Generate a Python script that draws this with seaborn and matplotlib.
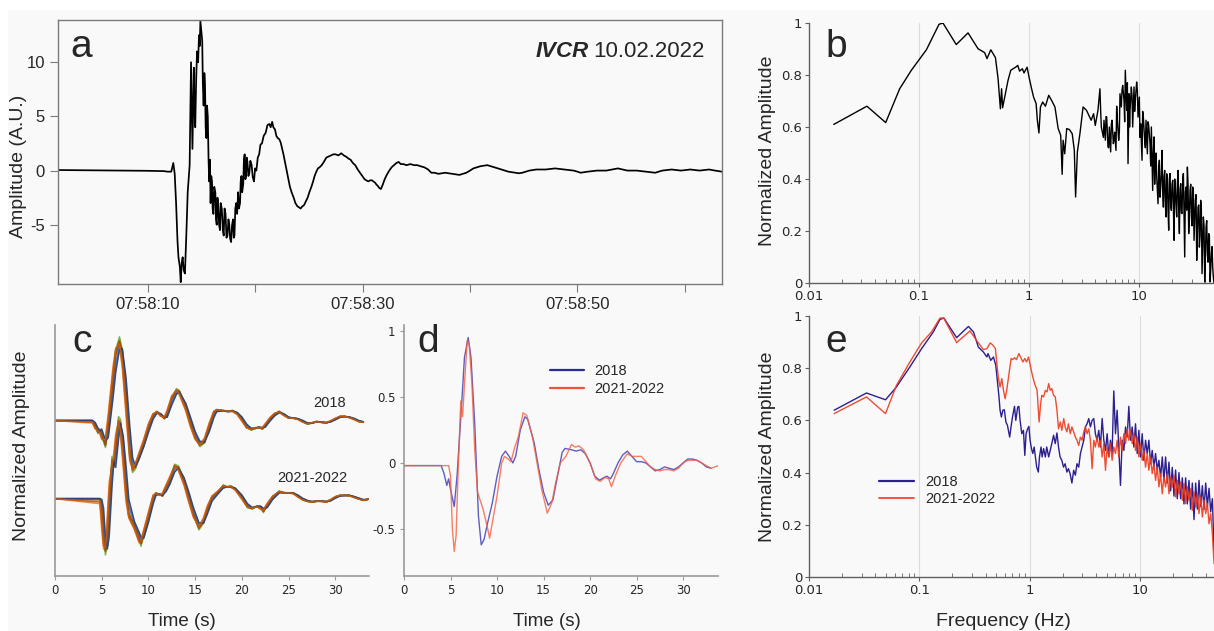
import numpy as np
import matplotlib
matplotlib.use('Agg')
import matplotlib.pyplot as plt
import matplotlib.ticker as mticker
from matplotlib.lines import Line2D
from matplotlib.patches import Rectangle
import seaborn as sns

# ---------------- data ----------------
# (a) raw record: seconds after 07:58:00 and amplitude (A.U.)
a_time = [1.66, 4.0, 6.0, 8.0, 10.0, 11.5, 11.87, 12.2, 12.39, 12.52, 12.65, 12.78, 12.87, 13.00, 13.08, 13.17,
          13.26, 13.36, 13.47, 13.60, 13.73, 13.91, 14.04, 14.10, 14.17, 14.30, 14.36, 14.43, 14.52, 14.60,
          14.70, 14.78, 14.85, 14.91, 15.00, 15.08, 15.14, 15.21, 15.28, 15.34, 15.40, 15.47, 15.53, 15.60,
          15.67, 15.73, 15.80, 15.86, 15.92, 15.99, 16.05, 16.12, 16.20, 16.30, 16.36, 16.43, 16.50, 16.56,
          16.65, 16.73, 16.80, 16.90, 17.00, 17.08, 17.16, 17.25, 17.34, 17.43, 17.52, 17.60, 17.68, 17.77,
          17.86, 17.95, 18.02, 18.08, 18.16, 18.25, 18.33, 18.42, 18.50, 18.60, 18.66, 18.73, 18.80, 18.90,
          18.96, 19.03, 19.10, 19.16, 19.22, 19.29, 19.38, 19.47, 19.56, 19.68, 19.78, 19.90, 20.00, 20.12,
          20.25, 20.38, 20.50, 20.64, 20.80, 20.99, 21.15, 21.33, 21.45, 21.59, 21.70, 21.85, 21.98, 22.11,
          22.25, 22.38, 22.50, 22.64, 22.80, 22.94, 23.10, 23.24, 23.40, 23.59, 23.75, 23.94, 24.10, 24.24,
          24.40, 24.55, 24.70, 24.89, 25.05, 25.24, 25.40, 25.54, 25.70, 25.85, 26.00, 26.20, 26.40, 26.63,
          26.85, 27.06, 27.28, 27.50, 27.75, 28.02, 28.25, 28.45, 28.70, 28.89, 29.10, 29.32, 29.55, 29.76,
          29.98, 30.19, 30.35, 30.54, 30.70, 30.89, 31.00, 31.15, 31.30, 31.41, 31.55, 31.71, 31.88, 32.06,
          32.25, 32.49, 32.70, 32.93, 33.15, 33.36, 33.55, 33.79, 34.10, 34.45, 34.80, 35.10, 35.40, 35.75,
          36.10, 36.40, 36.70, 37.05, 37.40, 37.70, 38.00, 38.35, 38.70, 39.01, 39.35, 39.66, 40.00, 40.31,
          40.65, 40.96, 41.30, 41.61, 41.95, 42.26, 42.60, 42.91, 43.25, 43.57, 43.90, 44.22, 44.55, 44.87,
          45.20, 45.52, 45.85, 46.17, 46.60, 47.04, 47.50, 47.91, 48.35, 48.78, 49.20, 49.64, 50.00, 50.29,
          50.60, 50.95, 51.40, 51.82, 52.25, 52.68, 53.20, 53.77, 54.20, 54.64, 55.10, 55.51, 55.90, 56.37,
          56.80, 57.24, 57.55, 57.89, 58.30, 58.76, 59.20, 59.63, 60.10, 60.50, 60.90, 61.37, 61.80, 62.24,
          62.80, 63.45]
a_amp = [0.05, 0.03, 0.02, 0.0, -0.02, -0.05, -0.1, -0.1, 0.7, -0.3, -3.0, -6.5, -8.0, -8.9, -10.3, -8.5,
         -8.0, -9.2, -9.5, -6.0, -2.0, 0.5, 10.0, 6.0, 2.0, 9.5, 5.5, 4.0, 8.5, 11.0,
         10.0, 12.5, 11.5, 13.8, 12.8, 12.0, 8.0, 6.0, 9.0, 8.0, 4.0, 3.0, 6.0, 5.0,
         1.0, -1.0, 1.0, -3.0, -0.5, -1.0, -3.5, -4.0, -1.5, -2.0, -4.5, -5.0, -2.5, -3.0,
         -5.0, -5.5, -3.0, -3.5, -5.5, -6.0, -3.5, -4.0, -6.2, -6.0, -4.5, -5.0, -6.3, -6.6,
         -5.0, -4.5, -6.2, -6.0, -3.5, -3.0, -4.0, -2.0, -3.5, -3.0, -1.0, -0.5, -2.0, -1.2,
         1.0, 1.5, -0.8, -0.5, 1.2, 0.8, -0.5, -0.2, 0.9, 0.5, -0.6, -1.0, 0.2, 0.0,
         1.2, 1.5, 2.4, 2.5, 3.2, 3.5, 4.2, 4.3, 4.0, 4.5, 4.0, 3.8, 3.2, 3.0,
         2.9, 2.6, 2.1, 1.5, 0.7, 0.0, -0.8, -1.5, -2.0, -2.5, -3.0, -3.3, -3.4, -3.5,
         -3.3, -3.2, -2.9, -2.5, -2.0, -1.5, -1.0, -0.5, -0.1, 0.2, 0.3, 0.5, 0.8, 1.2,
         1.3, 1.4, 1.5, 1.5, 1.4, 1.6, 1.4, 1.3, 1.1, 1.0, 0.7, 0.5, 0.1, -0.2,
         -0.5, -0.8, -0.9, -1.0, -0.9, -0.9, -1.0, -1.1, -1.3, -1.4, -1.6, -1.7, -1.3, -0.8,
         -0.4, 0.0, 0.3, 0.5, 0.7, 0.8, 0.6, 0.6, 0.5, 0.6, 0.5, 0.5, 0.4, 0.3,
         0.1, -0.2, -0.2, -0.3, -0.25, -0.2, -0.25, -0.3, -0.35, -0.4, -0.3, -0.2, 0.0, 0.2,
         0.3, 0.4, 0.45, 0.5, 0.4, 0.3, 0.2, 0.1, 0.0, -0.1, -0.15, -0.2, -0.25, -0.2,
         -0.1, 0.0, 0.05, 0.1, 0.1, 0.1, 0.15, 0.2, 0.15, 0.1, 0.05, 0.0, -0.1, -0.2,
         -0.15, -0.1, -0.05, 0.0, 0.0, 0.0, 0.1, 0.2, 0.1, 0.0, 0.0, 0.0, -0.05, -0.1,
         -0.15, -0.2, -0.1, 0.0, 0.05, 0.1, 0.05, 0.0, 0.05, 0.1, 0.05, 0.0, 0.05, 0.1,
         0.0, -0.1]

# (b) normalized spectrum of the record
b_freq = [0.0168, 0.0336, 0.0498, 0.0667, 0.0851, 0.1167, 0.152, 0.165, 0.218, 0.279, 0.344, 0.395, 0.415,
          0.449, 0.495, 0.523, 0.549, 0.563, 0.575, 0.601, 0.644, 0.682, 0.715, 0.756, 0.79, 0.82, 0.87,
          0.90, 0.96, 1.0, 1.05, 1.10, 1.16, 1.19, 1.23, 1.27, 1.33, 1.41, 1.51, 1.60, 1.72, 1.84, 1.94,
          2.0, 2.04, 2.11, 2.2, 2.33, 2.47, 2.58, 2.65, 2.75, 2.9, 3.1, 3.33, 3.5, 3.67, 3.86, 4.0, 4.23,
          4.41, 4.54, 4.67, 4.80, 4.94, 5.08, 5.22, 5.37, 5.52, 5.68, 5.84, 6.00, 6.17, 6.35, 6.53, 6.71,
          6.90, 7.10, 7.30, 7.50, 7.72, 7.94, 8.11, 8.28, 8.51, 8.75, 9.00, 9.25, 9.51, 9.79, 10.06, 10.35,
          10.64, 10.94, 11.25, 11.57, 11.90, 12.23, 12.58, 12.94, 13.30, 13.68, 14.07, 14.47, 14.88, 15.30,
          15.73, 16.18, 16.64, 17.11, 17.59, 18.09, 18.60, 19.13, 19.67, 20.23, 20.80, 21.39, 21.99, 22.62,
          23.26, 23.91, 24.59, 25.29, 26.00, 26.74, 27.50, 28.27, 29.07, 29.90, 30.74, 31.61, 32.51, 33.43,
          34.37, 35.34, 36.34, 37.37, 38.43, 39.52, 40.64, 41.79, 42.97, 44.19, 45.44, 46.73, 48.05]
b_amp = [0.61, 0.68, 0.617, 0.747, 0.818, 0.897, 0.995, 1.0, 0.917, 0.962, 0.901, 0.886, 0.863,
         0.897, 0.867, 0.786, 0.67, 0.747, 0.674, 0.715, 0.779, 0.818, 0.824, 0.83, 0.837, 0.815, 0.824,
         0.808, 0.83, 0.792, 0.751, 0.715, 0.69, 0.626, 0.577, 0.677, 0.696, 0.68, 0.722, 0.703, 0.677, 0.594, 0.568,
         0.418, 0.549, 0.497, 0.594, 0.59, 0.574, 0.51, 0.331, 0.504, 0.574, 0.677, 0.664, 0.645, 0.626, 0.651, 0.606, 0.664,
         0.747, 0.6, 0.574, 0.626, 0.549, 0.638, 0.523, 0.6, 0.504, 0.626, 0.536, 0.58, 0.51, 0.626, 0.549, 0.728,
         0.677, 0.76, 0.703, 0.818, 0.664, 0.459, 0.728, 0.664, 0.754, 0.6, 0.754, 0.703, 0.773, 0.638, 0.715, 0.613,
         0.472, 0.638, 0.549, 0.626, 0.497, 0.606, 0.536, 0.6, 0.356, 0.562, 0.472, 0.408, 0.305, 0.472,
         0.369, 0.51, 0.292, 0.433, 0.254, 0.395, 0.203, 0.421, 0.279, 0.395, 0.164, 0.369, 0.254, 0.433,
         0.19, 0.382, 0.267, 0.421, 0.1, 0.369, 0.446, 0.19, 0.356, 0.254, 0.369, 0.164, 0.318, 0.087,
         0.292, 0.138, 0.318, 0.036, 0.254, 0.004, 0.215, 0.113, 0.19, 0.004, 0.113, 0.06, 0.0]
# additional readings in the dense high-frequency band of (b)
b_freq_hf = [4.48, 4.74, 5.01, 5.30, 5.60, 5.92, 6.26, 6.62, 7.00, 7.40, 7.83, 8.20, 8.63, 9.12, 9.65, 10.20,
             10.79, 11.41, 12.06, 12.76, 13.12, 13.49, 13.87, 14.27, 14.67, 15.09, 15.51, 15.95, 16.41, 16.87,
             17.35, 17.84, 18.34, 18.86, 19.40, 19.95, 20.51, 21.09, 21.69, 22.30, 22.94, 23.58, 24.25, 24.94,
             25.64, 26.37, 27.12, 27.88, 28.67, 29.48, 30.32, 31.17, 32.06, 32.97, 33.90, 34.85, 35.84, 36.85,
             37.90, 38.97, 40.08, 41.21, 42.38, 43.58, 44.81, 46.08, 47.39]
b_amp_hf = [0.66, 0.56, 0.64, 0.52, 0.61, 0.55, 0.68, 0.58, 0.74, 0.62, 0.77, 0.6, 0.72, 0.66, 0.74, 0.56,
            0.66, 0.52, 0.62, 0.45, 0.48, 0.5, 0.38, 0.5, 0.36, 0.44, 0.33, 0.42, 0.35, 0.41,
            0.3, 0.42, 0.28, 0.4, 0.3, 0.38, 0.3, 0.4, 0.3, 0.38, 0.28, 0.36, 0.27, 0.4,
            0.25, 0.35, 0.28, 0.38, 0.26, 0.38, 0.22, 0.35, 0.24, 0.34, 0.2, 0.3, 0.18, 0.28,
            0.14, 0.22, 0.1, 0.24, 0.08, 0.18, 0.05, 0.14, 0.02]

# (c, d) averaged normalized waveforms
d_t_2018 = [0, 4.0, 4.3, 4.6, 4.8, 5.0, 5.4, 5.7, 6.2, 6.5, 6.9, 7.2, 7.6, 8.0, 8.3, 8.6, 9.0, 9.5, 10.0, 10.5,
            10.9, 11.3, 11.7, 12.0, 12.5, 13.0, 13.3, 14.0, 14.5, 15.0, 15.5, 16.0, 16.5, 17.0, 17.3, 18.0,
            18.5, 19.0, 19.5, 20.0, 20.5, 21.0, 21.5, 21.8, 22.2, 22.5, 23.0, 23.5, 24.0, 24.5, 25.0, 25.5,
            26.0, 26.5, 27.0, 27.5, 28.0, 28.5, 29.0, 29.5, 30.0, 30.5, 31.0, 31.5, 32.0, 32.5, 33.0]
d_v_2018 = [-0.02, -0.02, -0.08, -0.17, -0.12, -0.2, -0.33, -0.1, 0.45, 0.8, 0.95, 0.8, 0.3, -0.4, -0.62, -0.58,
            -0.45, -0.3, -0.1, 0.05, 0.09, 0.05, 0.0, 0.05, 0.25, 0.35, 0.33, 0.15, -0.05, -0.22, -0.32, -0.28,
            -0.1, 0.08, 0.11, 0.1, 0.09, 0.1, 0.07, 0.0, -0.1, -0.13, -0.11, -0.1, -0.12, -0.08, 0.0, 0.06,
            0.09, 0.05, 0.01, 0.01, 0.0, -0.03, -0.06, -0.05, -0.03, -0.04, -0.05, -0.03, 0.0, 0.03, 0.03,
            0.02, 0.0, -0.03, -0.04]
d_t_2122 = [0, 4.8, 5.0, 5.2, 5.4, 5.6, 5.8, 6.1, 6.3, 6.5, 6.8, 7.0, 7.3, 7.6, 7.9, 8.5, 9.0, 9.2, 9.5, 10.0,
            10.5, 10.8, 11.2, 11.5, 11.9, 12.3, 12.8, 13.2, 13.8, 14.3, 14.8, 15.4, 15.9, 16.3, 16.8, 17.4,
            18.0, 18.4, 18.8, 19.3, 20.0, 20.6, 21.1, 21.6, 22.0, 22.3, 22.7, 23.3, 24.0, 24.5, 25.0, 25.5,
            26.0, 26.5, 27.0, 27.5, 28.0, 28.5, 29.0, 29.5, 30.0, 30.5, 31.0, 31.5, 32.0, 32.5, 33.0, 33.8]
d_v_2122 = [-0.02, -0.02, -0.1, -0.5, -0.67, -0.55, -0.1, 0.47, 0.35, 0.6, 0.93, 0.9, 0.6, 0.1, -0.22, -0.35,
            -0.5, -0.57, -0.45, -0.25, 0.0, 0.05, 0.03, 0.01, 0.12, 0.2, 0.38, 0.36, 0.2, 0.0, -0.2, -0.38,
            -0.3, -0.15, 0.0, 0.05, 0.14, 0.12, 0.13, 0.1, 0.0, -0.12, -0.14, -0.11, -0.12, -0.18, -0.1, 0.0,
            0.07, 0.05, 0.05, 0.05, 0.01, -0.03, -0.05, -0.06, -0.05, -0.05, -0.06, -0.04, 0.0, 0.02, 0.02,
            0.02, 0.0, -0.02, -0.04, -0.02]

# (c) individual events: amplitude factor and time offset (s) of each trace
c_gain = [1.02, 0.97, 0.93, 1.00, 1.04, 0.98, 1.01, 0.99, 0.95, 1.00]
c_shift = [0.05, -0.08, 0.12, -0.15, 0.00, 0.10, -0.03, 0.02, 0.18, -0.10]
c_offset = {'2018': 0.0, '2021-2022': -0.94}

# (e) normalized spectra of the two periods
e_freq_2018 = [0.0169, 0.0332, 0.0494, 0.0613, 0.0822, 0.105, 0.134, 0.154, 0.167, 0.218, 0.279, 0.31, 0.343,
               0.381, 0.41, 0.42, 0.445, 0.47, 0.494, 0.51, 0.528, 0.54, 0.555, 0.572, 0.59, 0.61, 0.63, 0.66,
               0.68, 0.70, 0.73, 0.75, 0.78, 0.80, 0.82, 0.85, 0.88, 0.905, 0.93, 0.96, 0.986, 1.01, 1.04,
               1.07, 1.10, 1.13, 1.16, 1.20, 1.23, 1.27, 1.30, 1.34, 1.39, 1.43, 1.49, 1.54, 1.59, 1.65, 1.71,
               1.77, 1.83, 1.89, 1.96, 2.03, 2.10, 2.18, 2.25, 2.33, 2.42, 2.51, 2.60, 2.69, 2.79, 2.89, 2.99,
               3.10, 3.21, 3.32, 3.44, 3.56, 3.69, 3.82, 3.95, 4.09, 4.24, 4.39, 4.55, 4.71, 4.88, 5.05, 5.23,
               5.41, 5.60, 5.80, 6.01, 6.22, 6.44, 6.67, 6.91, 7.16, 7.41, 7.67, 7.94, 8.23, 8.52, 8.82, 9.13,
               9.46, 9.79, 10.14, 10.50, 10.87, 11.26, 11.66, 12.07, 12.50, 12.94, 13.40, 13.88, 14.37, 14.88,
               15.41, 15.96, 16.52, 17.11, 17.72, 18.35, 19.00, 19.67, 20.37, 21.09, 21.84, 22.62, 23.42, 24.25,
               25.11, 26.00, 26.93, 27.88, 28.87, 29.90, 30.96, 32.06, 33.20, 34.37, 35.59, 36.86, 38.17, 39.52,
               40.92, 42.37, 43.88, 45.43, 47.05]
e_amp_2018 = [0.639, 0.705, 0.679, 0.725, 0.805, 0.875, 0.939, 0.987, 0.992, 0.917, 0.96, 0.939, 0.881,
              0.862, 0.843, 0.856, 0.83, 0.843, 0.811, 0.753, 0.69, 0.639, 0.613, 0.639, 0.641, 0.594, 0.581, 0.536,
              0.577, 0.613, 0.654, 0.6, 0.651, 0.654, 0.6, 0.549, 0.562, 0.466, 0.549, 0.568, 0.577, 0.524, 0.492,
              0.473, 0.498, 0.46, 0.421, 0.402, 0.46, 0.498, 0.46, 0.492, 0.46, 0.498, 0.46, 0.485, 0.511, 0.543, 0.511,
              0.552, 0.498, 0.46, 0.447, 0.421, 0.434, 0.402, 0.415, 0.396, 0.36, 0.409, 0.39, 0.434, 0.421, 0.473, 0.498,
              0.524, 0.575, 0.587, 0.607, 0.575, 0.6, 0.607, 0.549, 0.524, 0.562, 0.498, 0.607, 0.524, 0.485, 0.549, 0.46,
              0.524, 0.473, 0.713, 0.549, 0.639, 0.498, 0.351, 0.524, 0.485, 0.575, 0.536, 0.654, 0.524, 0.575, 0.498, 0.587,
              0.473, 0.562, 0.46, 0.549, 0.447, 0.524, 0.473, 0.524, 0.434, 0.485, 0.421, 0.473, 0.409, 0.447,
              0.383, 0.46, 0.37, 0.46, 0.36, 0.44, 0.33, 0.42, 0.31, 0.41, 0.30, 0.40, 0.30, 0.38,
              0.28, 0.38, 0.28, 0.37, 0.26, 0.36, 0.22, 0.36, 0.26, 0.37, 0.27, 0.35, 0.26, 0.36,
              0.27, 0.34, 0.25, 0.30, 0.10]
e_freq_2122 = [0.0169, 0.0332, 0.0494, 0.062, 0.0822, 0.105, 0.129, 0.154, 0.167, 0.218, 0.288, 0.33, 0.381,
               0.41, 0.44, 0.465, 0.49, 0.505, 0.52, 0.54, 0.56, 0.58, 0.60, 0.62, 0.65, 0.68, 0.70, 0.73, 0.76,
               0.80, 0.84, 0.87, 0.905, 0.94, 0.98, 1.02, 1.07, 1.11, 1.17, 1.20, 1.22, 1.26, 1.29, 1.34, 1.39,
               1.44, 1.49, 1.54, 1.59, 1.65, 1.71, 1.77, 1.83, 1.90, 1.96, 2.04, 2.10, 2.18, 2.25, 2.34, 2.42,
               2.51, 2.60, 2.69, 2.79, 2.89, 2.99, 3.10, 3.21, 3.32, 3.44, 3.56, 3.69, 3.82, 3.95, 4.09, 4.24,
               4.39, 4.55, 4.71, 4.88, 5.05, 5.23, 5.41, 5.60, 5.80, 6.01, 6.22, 6.44, 6.67, 6.91, 7.16, 7.41,
               7.67, 7.94, 8.23, 8.52, 8.82, 9.13, 9.46, 9.79, 10.14, 10.50, 10.87, 11.26, 11.66, 12.07, 12.50,
               12.94, 13.40, 13.88, 14.37, 14.88, 15.41, 15.96, 16.52, 17.11, 17.72, 18.35, 19.00, 19.67, 20.37,
               21.09, 21.84, 22.62, 23.42, 24.25, 25.11, 26.00, 26.93, 27.88, 28.87, 29.90, 30.96, 32.06, 33.20,
               34.37, 35.59, 36.86, 38.17, 39.52, 40.92, 42.37, 43.88, 45.43, 47.05]
e_amp_2122 = [0.626, 0.69, 0.626, 0.734, 0.824, 0.897, 0.939, 0.992, 0.992, 0.898, 0.943, 0.907, 0.871,
              0.875, 0.897, 0.888, 0.875, 0.817, 0.766, 0.728, 0.76, 0.715, 0.683, 0.715, 0.779, 0.837, 0.833, 0.84, 0.833,
              0.856, 0.837, 0.824, 0.837, 0.824, 0.843, 0.805, 0.766, 0.741, 0.715, 0.639, 0.594, 0.664, 0.696, 0.69, 0.715,
              0.709, 0.741, 0.715, 0.722, 0.696, 0.69, 0.639, 0.568, 0.594, 0.562, 0.607, 0.575, 0.556, 0.587, 0.549, 0.575,
              0.556, 0.536, 0.524, 0.504, 0.536, 0.524, 0.556, 0.575, 0.549, 0.568, 0.524, 0.415, 0.524, 0.498, 0.536, 0.498,
              0.524, 0.46, 0.511, 0.409, 0.498, 0.46, 0.511, 0.447, 0.498, 0.473, 0.524, 0.46, 0.536, 0.485, 0.549, 0.511,
              0.568, 0.524, 0.562, 0.511, 0.549, 0.485, 0.536, 0.46, 0.511, 0.447, 0.485, 0.421, 0.473, 0.409, 0.46,
              0.396, 0.434, 0.37, 0.421, 0.345, 0.396, 0.319, 0.383, 0.345, 0.396, 0.319, 0.383, 0.345, 0.39,
              0.307, 0.37, 0.319, 0.364, 0.294, 0.358, 0.281, 0.345, 0.294, 0.338, 0.255, 0.326, 0.268, 0.319,
              0.243, 0.307, 0.23, 0.294, 0.243, 0.281, 0.204, 0.243, 0.166, 0.051]

# ---------------- style ----------------
sns.set_style('white')
plt.rcParams['font.family'] = ['Liberation Sans', 'DejaVu Sans']
plt.rcParams['axes.unicode_minus'] = False

W, H = 1214, 631
BG = '#f9f9f9'
fig = plt.figure(figsize=(W / 100, H / 100), dpi=100)
fig.patch.set_facecolor('white')
fig.patches.append(Rectangle((8 / W, 0), 1 - 8 / W, 1 - 10 / H, transform=fig.transFigure,
                             facecolor=BG, edgecolor='none', zorder=-10))


def rect(l, t, r, b):
    return [l / W, 1 - b / H, (r - l) / W, (b - t) / H]


def fx(x):
    return x / W


def fy(y):
    return 1 - y / H


def line(ax, x, y, **kw):
    sns.lineplot(x=np.asarray(x, float), y=np.asarray(y, float), ax=ax, sort=False,
                 estimator=None, errorbar=None, **kw)


# ---------------- (a) ----------------
ax_a = fig.add_axes(rect(58, 20, 722, 284))
ax_a.set_facecolor(BG)
line(ax_a, a_time, a_amp, color='black', linewidth=1.25)
ax_a.set_xlim(1.66, 63.45)
ax_a.set_ylim(-10.47, 13.9)
for s in ax_a.spines.values():
    s.set_color('#7a7a7a')
    s.set_linewidth(1.0)
ax_a.set_xticks([10, 20, 30, 40, 50, 60])
ax_a.xaxis.set_major_formatter(mticker.FuncFormatter(
    lambda v, p: f'07:58:{int(round(v)):02d}' if int(round(v)) in (10, 30, 50) else ''))
ax_a.set_yticks([-5, 0, 5, 10])
ax_a.yaxis.set_major_formatter(mticker.FuncFormatter(lambda v, p: f'{v:g}'))
ax_a.tick_params(axis='both', direction='out', length=6, width=0.8, color='#7a7a7a',
                 labelsize=12, bottom=True, left=True, top=False, right=False)
ax_a.set_xlabel('')
ax_a.set_ylabel('')
fig.text(fx(19), fy(166), 'Amplitude (A.U.)', rotation=90, ha='center', va='center', fontsize=14)
t_date = fig.text(fx(705), fy(57), '10.02.2022', ha='right', va='baseline', fontsize=16)
fig.canvas.draw()
bb = t_date.get_window_extent()
fig.text((bb.x0 - 5) / W, fy(57), 'IVCR', ha='right', va='baseline', fontsize=16,
         fontweight='bold', style='italic')

# ---------------- (b) and (e) spectra ----------------


def style_spec(ax):
    ax.set_facecolor(BG)
    ax.set_xscale('log')
    ax.set_xlim(0.01, 48)
    ax.set_ylim(0, 1)
    for k in ('top', 'right'):
        ax.spines[k].set_visible(False)
    for k in ('left', 'bottom'):
        ax.spines[k].set_color('#606060')
        ax.spines[k].set_linewidth(1.0)
    ax.set_xticks([0.01, 0.1, 1, 10])
    ax.xaxis.set_major_formatter(mticker.FuncFormatter(lambda v, p: f'{v:g}'))
    ax.xaxis.set_minor_locator(mticker.LogLocator(base=10, subs=np.arange(2, 10), numticks=20))
    ax.xaxis.set_minor_formatter(mticker.NullFormatter())
    ax.set_yticks([0, 0.2, 0.4, 0.6, 0.8, 1.0])
    ax.yaxis.set_major_formatter(mticker.FuncFormatter(lambda v, p: f'{v:g}'))
    ax.tick_params(axis='both', which='major', direction='out', length=3, width=0.8, color='#606060',
                   labelsize=9.5, bottom=True, left=True, pad=2)
    ax.tick_params(axis='x', which='minor', direction='in', length=3, width=0.6, color='#606060', bottom=True)
    for lab in ax.get_xticklabels() + ax.get_yticklabels():
        lab.set_family('DejaVu Sans')
    ax.grid(False)
    for xv in (0.1, 1, 10):
        ax.axvline(xv, color='#dcdcdc', linewidth=0.8, zorder=0)
    ax.set_xlabel('')
    ax.set_ylabel('')


ax_b = fig.add_axes(rect(809, 23, 1214, 283))
bf = np.concatenate([b_freq, b_freq_hf])
ba = np.concatenate([b_amp, b_amp_hf])
order = np.argsort(bf)
line(ax_b, bf[order], ba[order], color='black', linewidth=1.0)
style_spec(ax_b)
fig.text(fx(768), fy(151), 'Normalized Amplitude', rotation=90, ha='center', va='center', fontsize=14)

ax_e = fig.add_axes(rect(809, 316, 1214, 577))
col18 = '#2c1f90'
col22 = '#ee3a1c'
line(ax_e, e_freq_2018, e_amp_2018, color=col18, linewidth=1.0)
line(ax_e, e_freq_2122, e_amp_2122, color=col22, linewidth=1.0, alpha=0.9)
style_spec(ax_e)
ax_e.set_xlim(0.01, 47)
fig.text(fx(768), fy(447), 'Normalized Amplitude', rotation=90, ha='center', va='center', fontsize=14)
fig.text(fx(1003), fy(622), 'Frequency (Hz)', ha='center', va='center', fontsize=14)
ax_e.legend(handles=[Line2D([], [], color=col18, lw=1.6), Line2D([], [], color=col22, lw=1.2)],
            labels=['2018', '2021-2022'], loc='upper left', bbox_to_anchor=(fx(879), fy(475)),
            bbox_transform=fig.transFigure, frameon=False, fontsize=10.5, handlelength=2.4,
            handletextpad=0.75, labelspacing=0.2, borderpad=0, borderaxespad=0)

# ---------------- (c) ----------------
ax_c = fig.add_axes(rect(55, 325, 369, 576))
ax_c.set_facecolor(BG)
c_colors = ['#FFC000', '#A5A5A5', '#5B9BD5', '#ED7D31', '#70AD47', '#4472C4', '#997300',
            '#9E480E', '#264478', '#C55A11']
for grp, (tt, vv) in {'2018': (d_t_2018, d_v_2018), '2021-2022': (d_t_2122, d_v_2122)}.items():
    tt = np.asarray(tt, float)
    vv = np.asarray(vv, float)
    for k, colr in enumerate(c_colors):
        yk = c_gain[k] * np.interp(tt - c_shift[k], tt, vv) + c_offset[grp]
        line(ax_c, tt, yk, color=colr, linewidth=1.1, alpha=0.9)
ax_c.set_xlim(0, 33.6)
ax_c.set_ylim(-1.89, 1.13)
for k in ('top', 'right'):
    ax_c.spines[k].set_visible(False)
for k in ('left', 'bottom'):
    ax_c.spines[k].set_color('#9a9a9a')
    ax_c.spines[k].set_linewidth(1.2)
ax_c.set_xticks(range(0, 35, 5))
ax_c.set_yticks([])
ax_c.tick_params(axis='x', direction='out', length=3, color='#9a9a9a', labelsize=8.5, bottom=True, pad=3)
for lab in ax_c.get_xticklabels():
    lab.set_family('DejaVu Sans')
ax_c.set_xlabel('')
ax_c.set_ylabel('')
ax_c.text(29.4, 0.19, '2018', ha='center', va='center', fontsize=10.5)
ax_c.text(27.5, -0.71, '2021-2022', ha='center', va='center', fontsize=10.5)
fig.text(fx(22), fy(446), 'Normalized Amplitude', rotation=90, ha='center', va='center', fontsize=14)
fig.text(fx(182), fy(621), 'Time (s)', ha='center', va='center', fontsize=13.5)

# ---------------- (d) ----------------
ax_d = fig.add_axes(rect(404, 325, 718, 576))
ax_d.set_facecolor(BG)
line(ax_d, d_t_2018, d_v_2018, color='#3a36b4', linewidth=1.0, alpha=0.8)
line(ax_d, d_t_2122, d_v_2122, color='#f4603f', linewidth=1.0, alpha=0.8)
ax_d.set_xlim(0, 33.75)
ax_d.set_ylim(-0.856, 1.045)
for k in ('top', 'right'):
    ax_d.spines[k].set_visible(False)
for k in ('left', 'bottom'):
    ax_d.spines[k].set_color('#9a9a9a')
    ax_d.spines[k].set_linewidth(1.2)
ax_d.set_xticks(range(0, 35, 5))
ax_d.set_yticks([-0.5, 0, 0.5, 1])
ax_d.yaxis.set_major_formatter(mticker.FuncFormatter(lambda v, p: f'{v:g}'))
ax_d.tick_params(axis='both', direction='out', length=3, color='#9a9a9a', labelsize=8.5,
                 bottom=True, left=True, pad=3)
for lab in ax_d.get_xticklabels() + ax_d.get_yticklabels():
    lab.set_family('DejaVu Sans')
ax_d.set_xlabel('')
ax_d.set_ylabel('')
ax_d.legend(handles=[Line2D([], [], color='#2a2a9a', lw=1.6), Line2D([], [], color='#f0503a', lw=1.6)],
            labels=['2018', '2021-2022'], loc='upper left', bbox_to_anchor=(fx(550), fy(364)),
            bbox_transform=fig.transFigure, frameon=False, fontsize=10.5, handlelength=2.3,
            handletextpad=0.75, labelspacing=0.25, borderpad=0, borderaxespad=0)
fig.text(fx(547), fy(621), 'Time (s)', ha='center', va='center', fontsize=13.5)

# ---------------- panel letters ----------------
for lx, ly, letter in [(70, 57, 'a'), (825, 57, 'b'), (72, 352, 'c'), (417, 352, 'd'), (825, 352, 'e')]:
    fig.text(fx(lx), fy(ly), letter, ha='left', va='baseline', fontsize=28)

fig.savefig('out.png', dpi=100, facecolor=fig.get_facecolor())
